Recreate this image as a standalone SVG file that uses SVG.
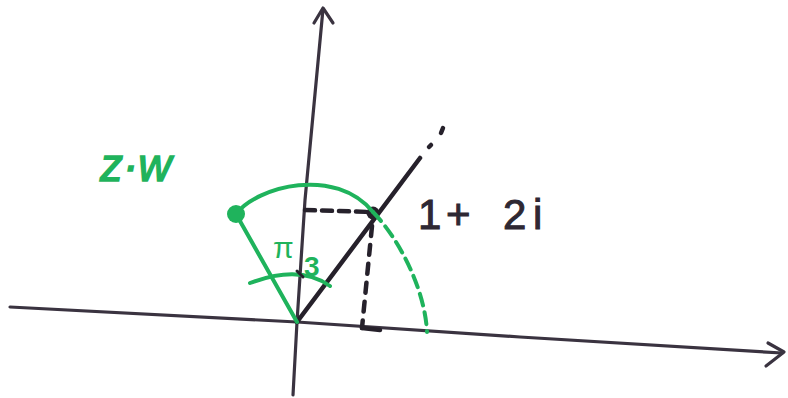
<svg xmlns="http://www.w3.org/2000/svg" width="788" height="398" viewBox="0 0 788 398">
<style>
.ax{fill:none;stroke:#3a3340;stroke-width:3.2;stroke-linecap:round;stroke-linejoin:round}
.blk{fill:none;stroke:#26212b;stroke-width:4.5;stroke-linecap:round}
.grn{fill:none;stroke:#1fb35c;stroke-width:4;stroke-linecap:round}
.gtxt{fill:#1fb35c;font-family:"Liberation Sans",Arial,sans-serif}
.ktxt{fill:#2e2833;font-family:"Liberation Sans",Arial,sans-serif}
</style>
<rect width="788" height="398" fill="#ffffff"/>
<g id="axes">
<path class="ax" d="M10,307 L297,322 L520,337 L782,353"/>
<path class="ax" d="M768,343 L784,352 L766,366"/>
<path class="ax" d="M293,395 L297,322 L305,200 L323,9"/>
<path class="ax" d="M314,23 L323,8 L333,23"/>
</g>
<g id="ray">
<path class="blk" d="M297,322 L420,158"/>
<path class="blk" d="M429,147 L431,145 M441,133 L443,128"/>
<path class="blk" stroke-dasharray="10,7" d="M305,210 L370,212"/>
<path class="blk" stroke-dasharray="10,9" d="M372,226 L362,328"/>
<path class="blk" d="M362,328 L380,330"/>
<circle cx="373" cy="213" r="6.5" fill="#26212b"/>
</g>
<g id="rotation">
<path class="grn" d="M236,214 C258,186 335,166 373,212"/>
<path class="grn" stroke-dasharray="12,7" d="M373,212 C400,240 425,290 427,332"/>
<path class="grn" stroke-width="5" d="M236,214 L297,322"/>
<path class="grn" stroke-width="2.5" d="M250,283 Q300,264 330,286"/>
<circle cx="236" cy="214" r="9" fill="#1fb35c"/>
<text class="gtxt" x="273" y="258" font-size="30">π</text>
<text class="gtxt" x="304" y="276" font-size="28" font-weight="bold">3</text>
<path d="M297,271 L303,277" stroke="#26212b" stroke-width="3" stroke-linecap="round"/>
</g>
<g id="labels">
<text class="gtxt" x="100" y="181" font-size="46" font-style="italic" stroke="#1fb35c" stroke-width="1.5">z·w</text>
<text class="ktxt" y="229" font-size="42" stroke="#2e2833" stroke-width="1"><tspan x="418">1</tspan><tspan x="446">+</tspan><tspan x="503">2</tspan><tspan x="533">i</tspan></text>
</g>
</svg>
